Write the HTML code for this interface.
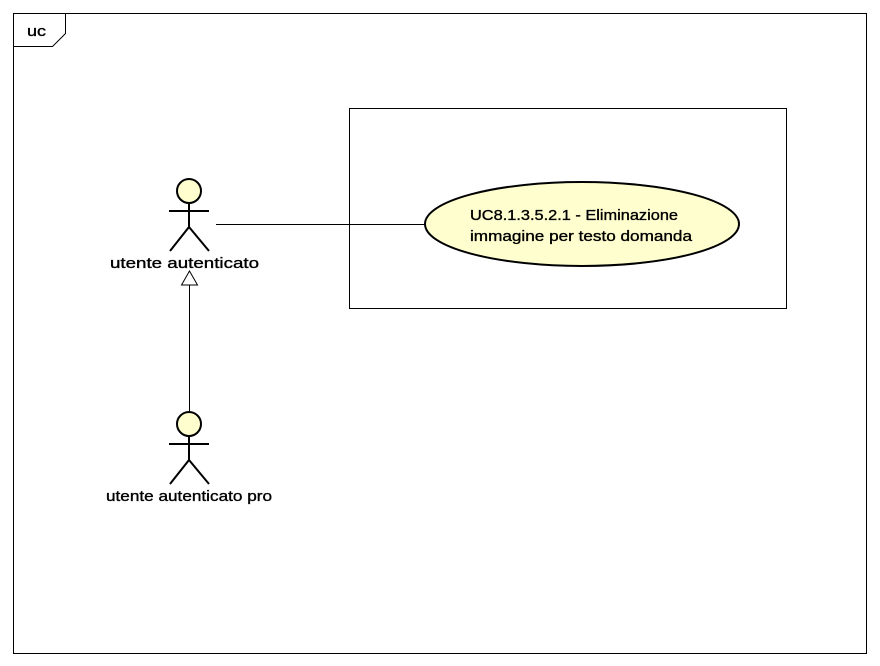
<!DOCTYPE html>
<html><head><meta charset="utf-8"><style>html,body{margin:0;padding:0;background:#fff}svg{display:block}</style></head>
<body>
<svg width="880" height="666" xmlns="http://www.w3.org/2000/svg" font-family="Liberation Sans, sans-serif" font-size="15">
<rect x="13.5" y="13.5" width="853" height="640" fill="#fff" stroke="#000" stroke-width="1"/>
<path d="M13.5 46.5 H52.5 L65.5 33.5 V13.5" fill="none" stroke="#000"/>
<g stroke="#000" stroke-width="0.35">
<text x="27" y="36" textLength="19" lengthAdjust="spacingAndGlyphs">uc</text>
</g>
<rect x="349.5" y="108.5" width="437" height="200" fill="#fff" stroke="#000"/>
<line x1="216" y1="224.5" x2="425" y2="224.5" stroke="#000"/>
<ellipse cx="582" cy="224" rx="157" ry="42" fill="#fefece" stroke="#000" stroke-width="2"/>
<g stroke="#000" stroke-width="0.35">
<text x="470" y="220" textLength="208" lengthAdjust="spacingAndGlyphs">UC8.1.3.5.2.1 - Eliminazione</text>
<text x="470" y="241" textLength="222" lengthAdjust="spacingAndGlyphs">immagine per testo domanda</text>
<text x="110" y="268" textLength="149" lengthAdjust="spacingAndGlyphs">utente autenticato</text>
<text x="106" y="501" textLength="166" lengthAdjust="spacingAndGlyphs">utente autenticato pro</text>
</g>
<g stroke="#000" stroke-width="2" fill="none">
<circle cx="189" cy="191" r="12" fill="#fefece"/>
<line x1="189" y1="203" x2="189" y2="227"/>
<line x1="169" y1="211" x2="209" y2="211"/>
<path d="M170 251 L189 227 L209 251"/>
<circle cx="189" cy="424" r="12" fill="#fefece"/>
<line x1="189" y1="436" x2="189" y2="460"/>
<line x1="169" y1="444" x2="209" y2="444"/>
<path d="M170 484 L189 460 L209 484"/>
</g>
<line x1="189.5" y1="285" x2="189.5" y2="411" stroke="#000"/>
<path d="M189.5 271 L181.5 285 L197.5 285 Z" fill="#fff" stroke="#000"/>
</svg>
</body></html>
